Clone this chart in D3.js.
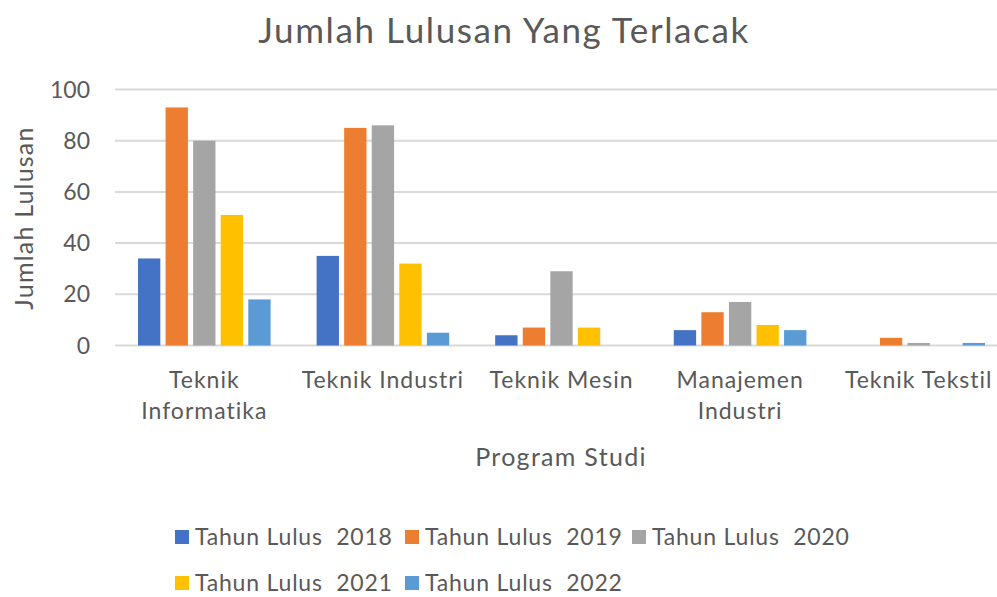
<!DOCTYPE html>
<html>
    <head>
        <script src="https://d3js.org/d3.v7.min.js"></script>
        <style>
          body { margin: 0; background: #ffffff; }
          #chart { width: 997px; height: 597px; }
          text { font-family: Lato, sans-serif; fill: #595959; font-variant-ligatures: none; font-feature-settings: "liga" 0, "clig" 0; }
      </style>
    </head>
    <body>
        <div id="chart"></div>
        <script>

            /* DATA */
            var categories = ["Teknik Informatika", "Teknik Industri", "Teknik Mesin", "Manajemen Industri", "Teknik Tekstil"];
            var categoryLines = [["Teknik", "Informatika"], ["Teknik Industri"], ["Teknik Mesin"], ["Manajemen", "Industri"], ["Teknik Tekstil"]];
            var seriesNames = ["Tahun Lulus  2018", "Tahun Lulus  2019", "Tahun Lulus  2020", "Tahun Lulus  2021", "Tahun Lulus  2022"];
            var values2018 = [34, 35, 4, 6, 0];
            var values2019 = [93, 85, 7, 13, 3];
            var values2020 = [80, 86, 29, 17, 1];
            var values2021 = [51, 32, 7, 8, 0];
            var values2022 = [18, 5, 0, 6, 1];
            var yTicks = [0, 20, 40, 60, 80, 100];
            var colors = ["#4472c4", "#ed7d31", "#a5a5a5", "#ffc000", "#5b9bd5"];

            var allSeries = [values2018, values2019, values2020, values2021, values2022];

            var width = 997, height = 597;
            var svg = d3.select("#chart")
                .append("svg")
                .attr("width", width)
                .attr("height", height);

            var margin = {left: 115, right: 1008, top: 89.5, bottom: 345.5};

            var x = d3.scaleBand()
                .domain(categories)
                .range([margin.left, margin.right])
                .paddingInner(0)
                .paddingOuter(0);

            var xInner = d3.scaleBand()
                .domain(d3.range(seriesNames.length))
                .range([23, x.bandwidth() - 23])
                .paddingInner(0.19);

            var y = d3.scaleLinear()
                .domain([0, 100])
                .range([margin.bottom, margin.top]);

            /* GRIDLINES */
            svg.append("g")
                .selectAll("line")
                .data(yTicks)
                .enter()
                .append("line")
                    .attr("x1", margin.left)
                    .attr("x2", margin.right)
                    .attr("y1", function(d) { return y(d); })
                    .attr("y2", function(d) { return y(d); })
                    .attr("stroke", "#d9d9d9")
                    .attr("stroke-width", 2);

            /* Y TICK LABELS */
            svg.append("g")
                .selectAll("text")
                .data(yTicks)
                .enter()
                .append("text")
                    .attr("x", 90)
                    .attr("y", function(d) { return y(d); })
                    .attr("dy", "0.35em")
                    .attr("text-anchor", "end")
                    .attr("font-size", 23)
                    .text(function(d) { return d; });

            /* BARS */
            var groups = svg.append("g")
                .selectAll("g")
                .data(categories)
                .enter()
                .append("g")
                    .attr("transform", function(d) { return "translate(" + x(d) + ",0)"; });

            groups.selectAll("rect")
                .data(function(d, i) {
                    return allSeries.map(function(s, j) { return {series: j, value: s[i]}; });
                })
                .enter()
                .append("rect")
                    .attr("x", function(d) { return xInner(d.series); })
                    .attr("width", xInner.bandwidth())
                    .attr("y", function(d) { return y(d.value); })
                    .attr("height", function(d) { return y(0) - y(d.value); })
                    .attr("fill", function(d) { return colors[d.series]; });

            /* X LABELS */
            svg.append("g")
                .selectAll("text")
                .data(categories)
                .enter()
                .append("text")
                    .attr("text-anchor", "middle")
                    .attr("font-size", 23)
                    .attr("letter-spacing", 1)
                    .attr("y", 388)
                    .each(function(d, i) {
                        var t = d3.select(this);
                        categoryLines[i].forEach(function(line, k) {
                            t.append("tspan")
                                .attr("x", x(d) + x.bandwidth() / 2)
                                .attr("dy", k === 0 ? 0 : 31)
                                .text(line);
                        });
                    });

            /* TITLES */
            svg.append("text")
                .attr("x", 504)
                .attr("y", 43)
                .attr("text-anchor", "middle")
                .attr("font-size", 35)
                .attr("letter-spacing", 1.6)
                .text("Jumlah Lulusan Yang Terlacak");

            svg.append("text")
                .attr("x", 561)
                .attr("y", 466)
                .attr("text-anchor", "middle")
                .attr("font-size", 25)
                .attr("letter-spacing", 1.3)
                .text("Program Studi");

            svg.append("text")
                .attr("transform", "translate(33,218) rotate(-90)")
                .attr("text-anchor", "middle")
                .attr("font-size", 25)
                .attr("letter-spacing", 1.2)
                .text("Jumlah Lulusan");

            /* LEGEND */
            var legendPos = [[175, 537], [405, 537], [632, 537], [175, 583], [405, 583]];
            var legend = svg.append("g")
                .selectAll("g")
                .data(seriesNames)
                .enter()
                .append("g")
                    .attr("transform", function(d, i) { return "translate(" + legendPos[i][0] + "," + legendPos[i][1] + ")"; });

            legend.append("rect")
                .attr("x", 0)
                .attr("y", -7)
                .attr("width", 14)
                .attr("height", 14)
                .attr("fill", function(d, i) { return colors[i]; });

            legend.append("text")
                .attr("x", 20)
                .attr("dy", "0.35em")
                .attr("font-size", 23)
                .attr("letter-spacing", 0.8)
                .attr("xml:space", "preserve")
                .style("white-space", "pre")
                .text(function(d) { return d; });

        </script>
    </body>
</html>
